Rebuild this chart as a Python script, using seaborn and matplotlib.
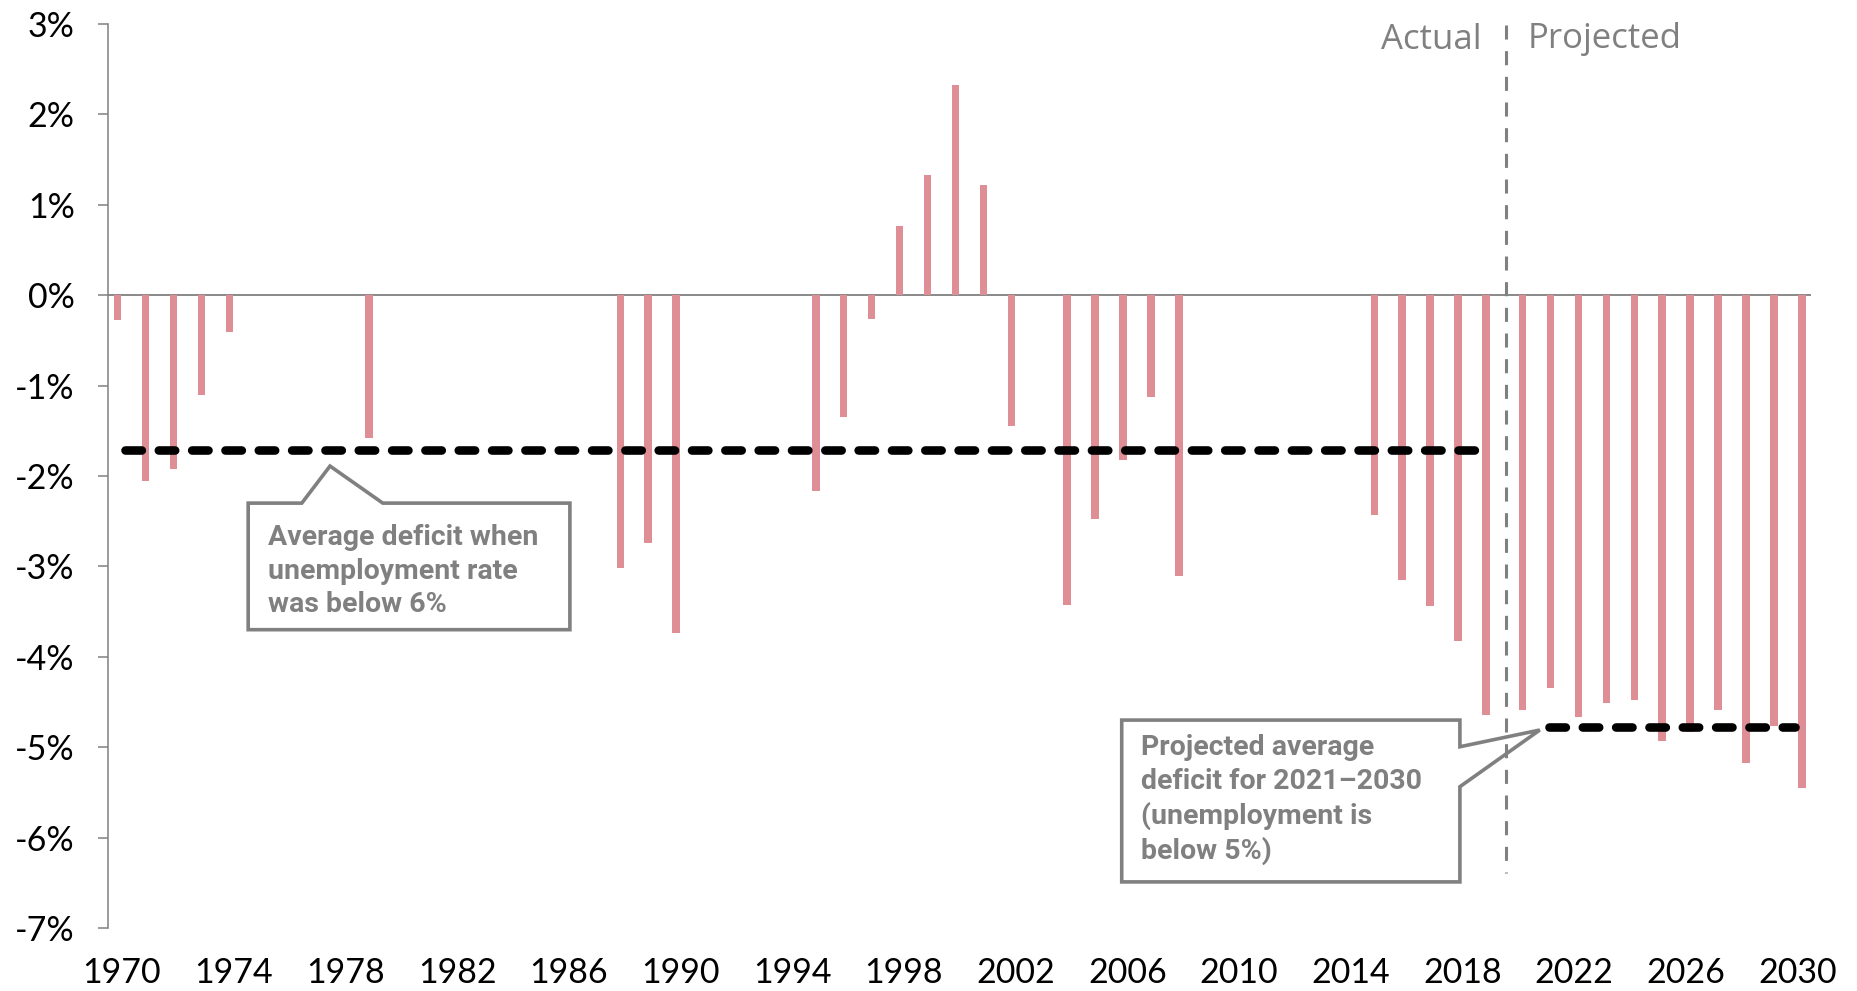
import matplotlib
matplotlib.use("Agg")
import matplotlib.pyplot as plt
from matplotlib.patches import Polygon
import pandas as pd
import seaborn as sns

# datos (deficit como % del PIB)
anios_reales = [1970, 1971, 1972, 1973, 1974, 1979, 1988, 1989, 1990, 1995, 1996, 1997,
                1998, 1999, 2000, 2001, 2002, 2004, 2005, 2006, 2007, 2008,
                2015, 2016, 2017, 2018, 2019]
deficit_real = [-0.27, -2.06, -1.92, -1.10, -0.41, -1.58, -3.02, -2.74, -3.74, -2.17, -1.35, -0.26,
                0.77, 1.33, 2.33, 1.22, -1.45, -3.43, -2.48, -1.82, -1.13, -3.11,
                -2.43, -3.15, -3.44, -3.82, -4.64]
anios_proy = [2020, 2021, 2022, 2023, 2024, 2025, 2026, 2027, 2028, 2029, 2030]
deficit_proy = [-4.59, -4.35, -4.67, -4.51, -4.48, -4.93, -4.83, -4.59, -5.18, -4.76, -5.45]

promedio_real = -1.71
promedio_proy = -4.78

ticks_x = [1970, 1974, 1978, 1982, 1986, 1990, 1994, 1998, 2002, 2006, 2010, 2014, 2018, 2022, 2026, 2030]
ticks_y = [3, 2, 1, 0, -1, -2, -3, -4, -5, -6, -7]

texto_1 = "Average deficit when\nunemployment rate\nwas below 6%"
texto_2 = "Projected average\ndeficit for 2021\u20132030\n(unemployment is\nbelow 5%)"

rosa = "#DF8E96"
gris = "#808080"

df = pd.DataFrame({
    "Anio": anios_reales + anios_proy,
    "Deficit": deficit_real + deficit_proy,
    "Periodo": ["Actual"] * len(anios_reales) + ["Projected"] * len(anios_proy),
})

sns.set_style("white")
plt.rcParams["font.family"] = ["Lato", "DejaVu Sans"]

fig = plt.figure(figsize=(18.58, 9.91), dpi=100)
ax = fig.add_axes([108 / 1858, 1 - 928 / 991, (1811.5 - 108) / 1858, (928 - 24) / 991])

sns.barplot(data=df, x="Anio", y="Deficit", hue="Periodo", native_scale=True, dodge=True,
            width=0.62, gap=0.13, palette={"Actual": rosa, "Projected": rosa},
            saturation=1, linewidth=0, legend=False, ax=ax, zorder=2)

ax.set_xlim(1969.5, 2030.5)
ax.set_ylim(-7, 3)
ax.set_xlabel("")
ax.set_ylabel("")
ax.set_xticks(ticks_x)
ax.set_xticklabels([str(a) for a in ticks_x])
ax.set_yticks(ticks_y)
ax.set_yticklabels([f"{v}%" for v in ticks_y])
ax.tick_params(axis="x", length=0, pad=21, labelsize=24.5, labelcolor="black")
ax.tick_params(axis="y", length=7.5, width=1.1, color=gris, pad=16.5, labelsize=24.5,
               labelcolor="black", left=True)

for lado in ["top", "right", "bottom"]:
    ax.spines[lado].set_visible(False)
ax.spines["left"].set_color(gris)
ax.spines["left"].set_linewidth(1.1)
ax.axhline(0, color=gris, lw=1.3, zorder=1)

# lineas de promedio
ax.plot([1970.1, 2018.9], [promedio_real, promedio_real], color="black", lw=6.2,
        linestyle=(0, (1.9, 1.97)), dash_capstyle="round", zorder=4)
ax.plot([2021.1, 2029.9], [promedio_proy, promedio_proy], color="black", lw=6.2,
        linestyle=(0, (1.9, 1.97)), dash_capstyle="round", zorder=4)

# separacion real / proyectado
ax.plot([2019.55, 2019.55], [2.99, -6.39], color=gris, lw=2.2, linestyle=(0, (4.6, 3.8)),
        zorder=6, clip_on=False)
ax.text(2018.69, 3.01, "Actual", ha="right", va="top", fontsize=25, color=gris,
        family=["Open Sans", "DejaVu Sans"], clip_on=False)
ax.text(2020.33, 3.02, "Projected", ha="left", va="top", fontsize=25, color=gris,
        family=["Open Sans", "DejaVu Sans"], clip_on=False)

# globos de texto
caja_1 = [(1974.52, -2.30), (1976.44, -2.30), (1977.45, -1.89), (1979.34, -2.30),
          (1986.04, -2.30), (1986.04, -3.70), (1974.52, -3.70)]
caja_2 = [(2005.80, -4.70), (2017.91, -4.70), (2017.91, -4.995), (2020.77, -4.81),
          (2017.91, -5.437), (2017.91, -6.49), (2005.80, -6.49)]
for puntos in [caja_1, caja_2]:
    ax.add_patch(Polygon(puntos, closed=True, facecolor="white", edgecolor=gris, lw=2.6,
                         joinstyle="miter", zorder=5))

fuente_caja = ["Roboto", "DejaVu Sans"]
ax.text(1975.23, -2.531, texto_1, ha="left", va="top", fontsize=20.5, fontweight="bold",
        color=gris, family=fuente_caja, linespacing=1.32, zorder=7)
ax.text(2006.48, -4.854, texto_2, ha="left", va="top", fontsize=20.5, fontweight="bold",
        color=gris, family=fuente_caja, linespacing=1.31, zorder=7)

fig.savefig("out.png", dpi=100, facecolor="white")
